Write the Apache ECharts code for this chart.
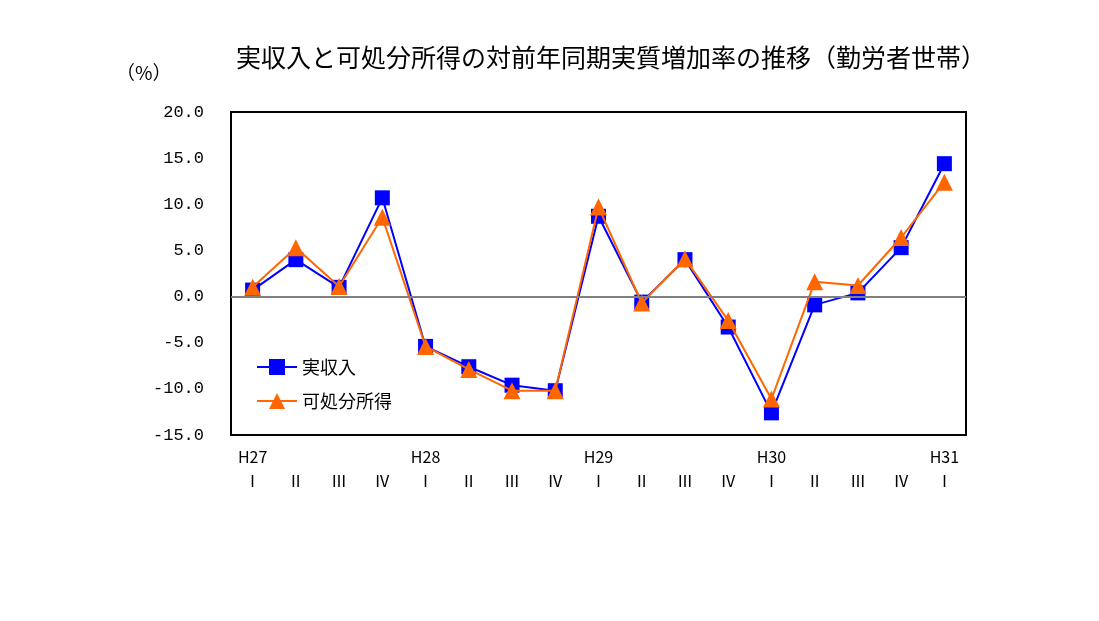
<!DOCTYPE html>
<html><head><meta charset="utf-8">
<script src="https://cdn.jsdelivr.net/npm/echarts@6/dist/echarts.min.js"></script>
<style>html,body{margin:0;padding:0;background:#fff}#c{width:1099px;height:621px}</style>
</head><body><div id="c"></div>
<script>
const years = ['H27','','','','H28','','','','H29','','','','H30','','','','H31'];
const quarters = ['Ⅰ','Ⅱ','Ⅲ','Ⅳ','Ⅰ','Ⅱ','Ⅲ','Ⅳ','Ⅰ','Ⅱ','Ⅲ','Ⅳ','Ⅰ','Ⅱ','Ⅲ','Ⅳ','Ⅰ'];
const realIncome = [0.7, 4.0, 1.0, 10.7, -5.4, -7.6, -9.6, -10.2, 8.7, -0.6, 4.0, -3.3, -12.6, -0.9, 0.4, 5.3, 14.4];
const disposable = [1.0, 5.3, 1.1, 8.6, -5.4, -7.9, -10.2, -10.2, 9.7, -0.7, 4.1, -2.6, -11.1, 1.6, 1.2, 6.4, 12.4];
const categories = years.map((y, i) => y + '\n' + quarters[i]);

const chart = echarts.init(document.getElementById('c'));
const font = '"Noto Sans CJK JP", sans-serif';
chart.setOption({
  animation: false,
  backgroundColor: '#fff',
  title: {
    text: '実収入と可処分所得の対前年同期実質増加率の推移（勤労者世帯）',
    left: 606, top: 40, textAlign: 'center',
    textStyle: { fontFamily: font, fontSize: 25, fontWeight: 'normal', color: '#000' }
  },
  graphic: [{
    type: 'text', left: 116, top: 63,
    style: { text: '（%）', font: '19px "Noto Sans CJK JP"', fill: '#000' }
  }],
  legend: {
    orient: 'vertical', left: 251, top: 353, itemGap: 16,
    itemWidth: 40, itemHeight: 20,
    textStyle: { fontFamily: font, fontSize: 18, color: '#000' },
    data: ['実収入', '可処分所得']
  },
  grid: { left: 231, right: 133, top: 112, bottom: 186, show: true, borderColor: '#000', borderWidth: 2 },
  xAxis: {
    type: 'category', data: categories, boundaryGap: true,
    axisLine: { show: false }, axisTick: { show: false },
    axisLabel: { interval: 0, margin: 10, color: '#000', fontFamily: font, fontSize: 16, lineHeight: 24 }
  },
  yAxis: {
    type: 'value', min: -15, max: 20, interval: 5,
    axisLine: { show: false }, axisTick: { show: false }, splitLine: { show: false },
    axisLabel: { margin: 27, color: '#000', fontFamily: '"Liberation Mono", monospace', fontSize: 17, formatter: v => v.toFixed(1) }
  },
  series: [
    {
      name: '実収入', type: 'line', data: realIncome,
      symbol: 'rect', symbolSize: 15,
      lineStyle: { color: '#0000FF', width: 2 }, itemStyle: { color: '#0000FF' },
      markLine: { silent: true, symbol: 'none', label: { show: false },
        lineStyle: { color: '#808080', width: 2, type: 'solid' }, data: [{ yAxis: 0 }] },
      z: 2
    },
    {
      name: '可処分所得', type: 'line', data: disposable,
      symbol: 'triangle', symbolSize: 17,
      lineStyle: { color: '#FF6600', width: 2 }, itemStyle: { color: '#FF6600' },
      z: 3
    }
  ]
});
</script></body></html>
